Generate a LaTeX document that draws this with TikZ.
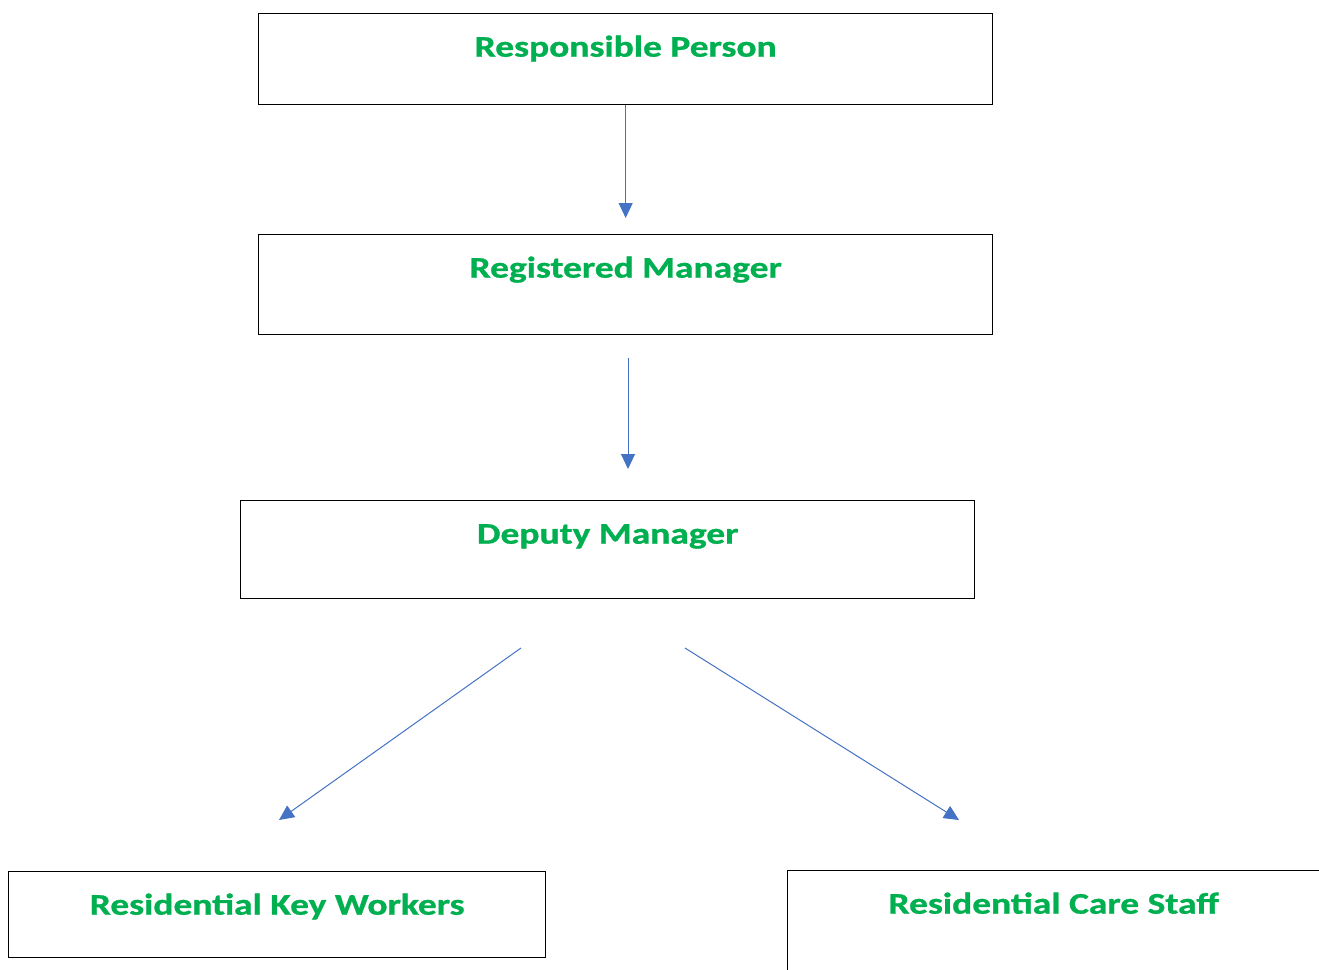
\documentclass[tikz,border=0pt]{standalone}
\usepackage{fontspec}
\setmainfont{Carlito}
\newfontfamily\rolefont[FakeStretch=1.25,FakeBold=1]{Carlito}
\usetikzlibrary{arrows.meta}
\definecolor{titlegreen}{HTML}{00B050}
\definecolor{linkblue}{HTML}{4472C4}
\begin{document}
\begin{tikzpicture}[
  x=1pt,y=-1pt,
  role/.style={draw,line width=1.3pt,anchor=north west,align=center,inner xsep=0pt,inner ysep=24pt,
    text height=19pt,font=\rolefont\fontsize{30}{36}\selectfont\bfseries,text=titlegreen},
  link/.style={draw=linkblue,line width=1pt,-{Triangle[length=15pt,width=14pt]}}
]
\useasboundingbox (0,0) rectangle (1319,969);
\node[role,minimum width=734pt,text depth=24pt] (resp) at (258,13) {Responsible Person};
\node[role,minimum width=734pt,text depth=33pt] (regm) at (258,234) {Registered Manager};
\node[role,minimum width=734pt,text depth=31pt] (depm) at (240,500) {Deputy Manager};
\node[role,minimum width=537pt,text depth=19pt] (keyw) at (8,871) {Residential Key Workers};
\node[role,minimum width=532pt,text depth=60pt] (care) at (787,870) {Residential Care Staff};
\coordinate (regm-out) at (628,358);
\coordinate (depm-in) at (628,469);
\coordinate (depm-left) at (521,648);
\coordinate (depm-right) at (685,648);
\coordinate (keyw-in) at (279,820);
\coordinate (care-in) at (959,820);
\draw[link] (resp.south) -- ([yshift=16pt]regm.north);
\draw[link] (regm-out) -- (depm-in);
\draw[link] (depm-left) -- (keyw-in);
\draw[link] (depm-right) -- (care-in);
\end{tikzpicture}
\end{document}
